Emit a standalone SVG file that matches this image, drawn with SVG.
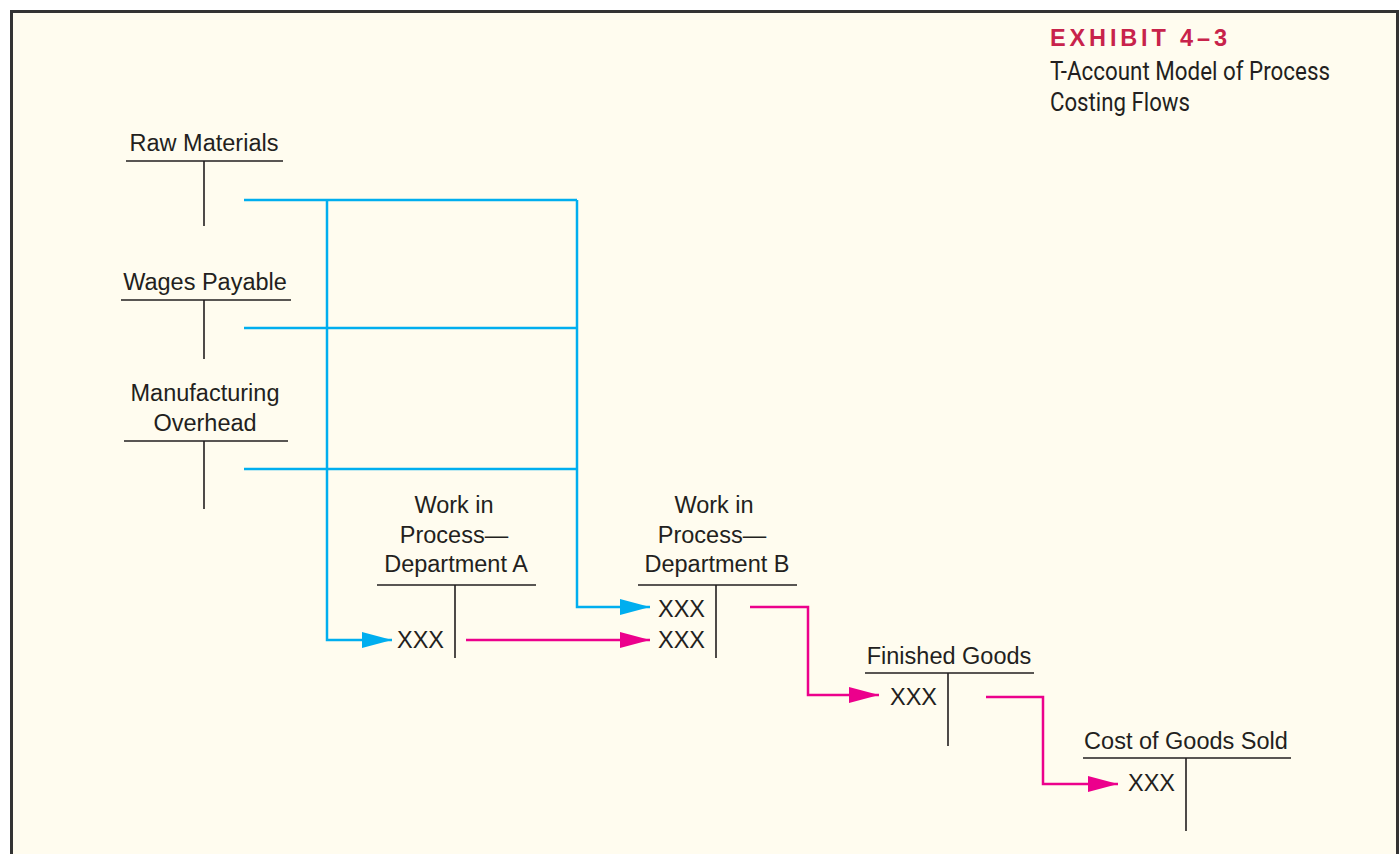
<svg xmlns="http://www.w3.org/2000/svg" width="1400" height="854" viewBox="0 0 1400 854">
<defs>
<style>
.t{font-family:"Liberation Sans",Arimo,Arial,Helvetica,sans-serif;font-size:23.5px;fill:#231F20;text-anchor:middle}
.x{font-family:"Liberation Sans",Arimo,Arial,Helvetica,sans-serif;font-size:23.5px;fill:#231F20}
.k{stroke:#231F20;stroke-width:1.6;fill:none}
.b{stroke:#00AEEF;stroke-width:2.5;fill:none}
.m{stroke:#EC008C;stroke-width:2.5;fill:none}
</style>
<marker id="ab" viewBox="0 0 30 16" refX="30" refY="8" markerWidth="30" markerHeight="16" markerUnits="userSpaceOnUse" orient="auto"><path d="M0,0 L30,8 L0,16 Z" fill="#00AEEF"/></marker>
<marker id="am" viewBox="0 0 30 16" refX="30" refY="8" markerWidth="30" markerHeight="16" markerUnits="userSpaceOnUse" orient="auto"><path d="M0,0 L30,8 L0,16 Z" fill="#EC008C"/></marker>
</defs>
<rect x="0" y="0" width="1400" height="854" fill="#FFFFFF"/>
<rect x="11.5" y="11.5" width="1386" height="860" fill="#FFFCEF" stroke="#333" stroke-width="3"/>
<g id="title">
<text x="1050" y="46" font-family="'Liberation Sans',Arial,sans-serif" font-size="23.5" font-weight="bold" fill="#C8234B" textLength="177" lengthAdjust="spacing">EXHIBIT 4–3</text>
<text x="1050" y="80" font-family="Roboto,'Liberation Sans',sans-serif" font-size="25" fill="#231F20" textLength="280" lengthAdjust="spacingAndGlyphs">T-Account Model of Process</text>
<text x="1050" y="111" font-family="Roboto,'Liberation Sans',sans-serif" font-size="25" fill="#231F20" textLength="140" lengthAdjust="spacingAndGlyphs">Costing Flows</text>
</g>
<g id="connectors">
<polyline class="b" points="244,200 577,200"/>
<polyline class="b" points="244,328 577,328"/>
<polyline class="b" points="244,469 577,469"/>
<polyline class="b" points="327,200 327,640 392,640" marker-end="url(#ab)"/>
<polyline class="b" points="577,200 577,607 650,607" marker-end="url(#ab)"/>
<polyline class="m" points="466,640 650,640" marker-end="url(#am)"/>
<polyline class="m" points="750,607 808,607 808,695 879,695" marker-end="url(#am)"/>
<polyline class="m" points="986,697 1043,697 1043,784 1118,784" marker-end="url(#am)"/>
</g>
<g id="raw-materials">
<text class="t" x="204" y="151">Raw Materials</text>
<path class="k" d="M126,161 H283 M204,161 V226"/>
</g>
<g id="wages-payable">
<text class="t" x="205" y="290">Wages Payable</text>
<path class="k" d="M121,300 H291 M204,300 V359"/>
</g>
<g id="manufacturing-overhead">
<text class="t" x="205" y="401">Manufacturing</text>
<text class="t" x="205" y="431">Overhead</text>
<path class="k" d="M124,441 H288 M204,441 V509"/>
</g>
<g id="wip-a">
<text class="t" x="454" y="513">Work in</text>
<text class="t" x="454" y="543">Process—</text>
<text class="t" x="456" y="572">Department A</text>
<path class="k" d="M377,585 H536 M455,585 V658"/>
<text class="x" x="397" y="648">XXX</text>
</g>
<g id="wip-b">
<text class="t" x="714" y="513">Work in</text>
<text class="t" x="712" y="543">Process—</text>
<text class="t" x="717" y="572">Department B</text>
<path class="k" d="M638,585 H797 M716,585 V658"/>
<text class="x" x="658" y="617">XXX</text>
<text class="x" x="658" y="648">XXX</text>
</g>
<g id="finished-goods">
<text class="t" x="949" y="664">Finished Goods</text>
<path class="k" d="M865,673 H1034 M948,673 V746"/>
<text class="x" x="890" y="705">XXX</text>
</g>
<g id="cogs">
<text class="t" x="1186" y="749">Cost of Goods Sold</text>
<path class="k" d="M1083,758 H1291 M1186,758 V831"/>
<text class="x" x="1128" y="791">XXX</text>
</g>
</svg>
